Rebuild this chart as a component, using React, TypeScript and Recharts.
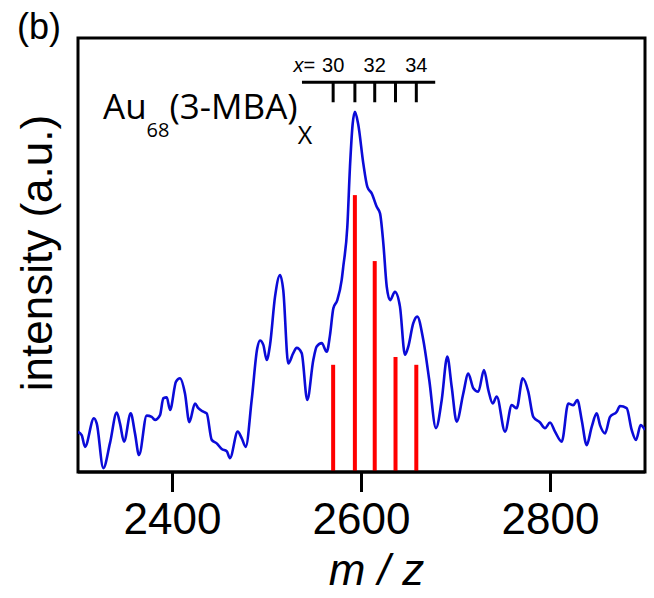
import React from "react";
import {
  ComposedChart,
  Line,
  Bar,
  Scatter,
  XAxis,
  YAxis,
  ReferenceArea,
} from "recharts";

const SPECTRUM_MZ = [
  2300, 2303.9, 2307.4, 2316.9, 2319.8, 2326.8, 2333.9, 2341.0, 2344.4, 2348.7,
  2355.8, 2360.3, 2364.6, 2372.7, 2378.0, 2381.5, 2386.8, 2390.3, 2393.9, 2397.4,
  2403.7, 2407.9, 2413.2, 2417.8, 2423.8, 2427.3, 2432.6, 2436.2, 2441.5, 2446.8,
  2452.1, 2457.4, 2460.8, 2469.0, 2473.2, 2477.5, 2483.8, 2489.7, 2492.6, 2496.1,
  2499.7, 2503.2, 2508.5, 2513.8, 2517.2, 2522.5, 2527.8, 2531.4, 2536.7, 2542.6,
  2549.0, 2552.6, 2557.9, 2563.2, 2566.7, 2570.2, 2574.4, 2579.0, 2580.7, 2585.0,
  2587.8, 2590.7, 2593.1, 2596.6, 2601.9, 2606.2, 2610.8, 2616.1, 2619.6, 2623.1,
  2626.7, 2630.2, 2635.4, 2640.7, 2646.0, 2649.5, 2654.8, 2659.0, 2665.4, 2671.7,
  2678.8, 2684.9, 2690.8, 2695.4, 2700.7, 2707.7, 2713.0, 2718.3, 2723.6, 2729.6,
  2734.2, 2738.8, 2743.1, 2751.9, 2759.0, 2764.2, 2770.6, 2776.5, 2781.8, 2788.9,
  2794.2, 2799.5, 2804.8, 2811.9, 2818.8, 2824.1, 2828.4, 2833.0, 2838.3, 2843.6,
  2848.9, 2852.4, 2857.7, 2863.0, 2870.1, 2873.5, 2880.6, 2885.9, 2890.5, 2895.4,
  2900,
];
const SPECTRUM_INTENSITY = [
  9.2, 8.5, 5.8, 12.4, 11.2, 0.9, 6.7, 13.7, 11.2, 7.0,
  13.5, 8.9, 3.9, 13.0, 12.7, 12.0, 13.1, 17.0, 17.2, 14.3,
  20.8, 21.6, 18.1, 11.5, 15.8, 14.7, 13.9, 13.5, 7.4, 6.6,
  5.3, 4.8, 3.2, 9.3, 7.8, 5.8, 16.6, 28.5, 30.3, 29.3,
  25.8, 29.3, 40.4, 45.4, 41.9, 25.0, 27.4, 28.6, 27.4, 16.6,
  25.8, 28.9, 29.7, 27.7, 31.6, 37.7, 39.6, 44.2, 47.3, 56.5,
  70.3, 80.3, 83.0, 80.0, 71.1, 65.7, 64.2, 61.1, 59.6, 52.7,
  42.7, 39.6, 41.5, 38.1, 27.0, 28.9, 34.3, 35.8, 30.4, 21.2,
  10.1, 16.6, 26.6, 19.7, 11.6, 18.1, 22.7, 19.3, 18.5, 23.5,
  18.9, 15.8, 17.4, 9.3, 15.4, 14.7, 21.6, 18.5, 12.7, 11.4,
  10.1, 11.4, 9.3, 7.0, 15.8, 15.4, 16.6, 12.0, 6.2, 10.4,
  13.5, 10.8, 8.9, 12.7, 13.9, 15.2, 14.7, 9.7, 7.4, 10.8,
  9.7,
];

// simulated isotope envelope, Au68(3-MBA)x for x = 30..34
const LIGAND_COUNT = [30, 31, 32, 33, 34];
const STICK_MZ = [2570, 2593, 2614, 2636, 2658];
const STICK_INTENSITY = [24.7, 63.8, 48.6, 26.5, 24.7];

const X_TICKS = [2400, 2600, 2800];
const X_DOMAIN = [2300, 2900];
const Y_DOMAIN = [0, 100];

// comb marker above the peak
const COMB_LEVEL = 89.8;
const COMB_SPAN = [2537, 2678];

const spectrumData = SPECTRUM_MZ.map((mz, i) => ({ mz, v: SPECTRUM_INTENSITY[i] }));
const stickData = STICK_MZ.map((mz, i) => ({ mz, h: STICK_INTENSITY[i] }));
const combData = STICK_MZ.map((mz, i) => ({ mz, v: COMB_LEVEL, n: LIGAND_COUNT[i] }));
const combBar = COMB_SPAN.map((mz) => ({ mz, v: COMB_LEVEL }));

const SANS = "'Liberation Sans', Arial, Helvetica, sans-serif";
const AXIS = { stroke: "#000", strokeWidth: 3 };

// thin red stick centred on the bar's slot
const Stick = (props: any) => {
  const { x, y, width, height } = props;
  if (height == null || height <= 0) return null;
  return <rect x={x + width / 2 - 2} y={y} width={4} height={height} fill="#ff0000" />;
};

const CombTick = (props: any) => {
  const { cx, cy, payload } = props;
  const n = payload.n;
  return (
    <g>
      <line x1={cx} y1={cy} x2={cx} y2={cy + 20} stroke="#000" strokeWidth={3} />
      {n % 2 === 0 && (
        <text x={cx} y={cy - 10} textAnchor="middle" fontSize={20} fontFamily={SANS} fill="#000">
          {n}
        </text>
      )}
      {n === LIGAND_COUNT[0] && (
        <text x={cx - 18} y={cy - 10} textAnchor="end" fontSize={20} fontFamily={SANS} fill="#000">
          <tspan fontStyle="italic">x</tspan>=
        </text>
      )}
    </g>
  );
};

export default function App() {
  return (
    <div style={{ position: "absolute", left: 0, top: 0, width: 654, height: 598, background: "#fff" }}>
      <ComposedChart
        width={654}
        height={598}
        data={stickData}
        margin={{ top: 38, right: 9, bottom: 0, left: 78 }}
      >
        <XAxis
          dataKey="mz"
          type="number"
          domain={X_DOMAIN}
          ticks={X_TICKS}
          allowDataOverflow
          height={126}
          axisLine={AXIS}
          tickLine={AXIS}
          tickSize={20}
          tickMargin={11}
          tick={{ fill: "#000", fontSize: 44, fontFamily: SANS }}
          label={{
            content: ({ viewBox }: any) => (
              <text
                x={viewBox.x + viewBox.width / 2 + 15}
                y={viewBox.y + 113}
                textAnchor="middle"
                fontSize={44}
                fontStyle="italic"
                fontFamily={SANS}
                fill="#000"
              >
                m / z
              </text>
            ),
          }}
        />
        <YAxis dataKey="v" type="number" domain={Y_DOMAIN} allowDataOverflow hide width={0} />
        <ReferenceArea
          x1={X_DOMAIN[0]}
          x2={X_DOMAIN[1]}
          y1={Y_DOMAIN[0]}
          y2={Y_DOMAIN[1]}
          fill="none"
          fillOpacity={0}
          stroke="#000"
          strokeWidth={3}
          ifOverflow="visible"
        />
        <Bar dataKey="h" barSize={4} shape={Stick} isAnimationActive={false} />
        <Line
          data={spectrumData}
          dataKey="v"
          type="monotone"
          stroke="#0b0bd8"
          strokeWidth={2.6}
          dot={false}
          isAnimationActive={false}
        />
        <Line
          data={combBar}
          dataKey="v"
          type="linear"
          stroke="#000"
          strokeWidth={3}
          dot={false}
          isAnimationActive={false}
        />
        <Scatter data={combData} dataKey="v" shape={CombTick} isAnimationActive={false} />
      </ComposedChart>
      <svg
        width={654}
        height={598}
        style={{ position: "absolute", left: 0, top: 0, pointerEvents: "none" }}
      >
        <text x={17} y={39} fontSize={36} fontFamily={SANS} fill="#000">
          (b)
        </text>
        <text
          x={52}
          y={253}
          transform="rotate(-90, 52, 253)"
          textAnchor="middle"
          fontSize={44}
          fontFamily={SANS}
          fill="#000"
        >
          intensity (a.u.)
        </text>
        <text x={103} y={119} fontSize={35} fontFamily="'Open Sans', sans-serif" fill="#000">
          Au
          <tspan fontSize={20} dy={18}>68</tspan>
          <tspan fontSize={35} dy={-18}>(3-MBA)</tspan>
          <tspan fontSize={25} dy={25}>X</tspan>
        </text>
      </svg>
    </div>
  );
}
